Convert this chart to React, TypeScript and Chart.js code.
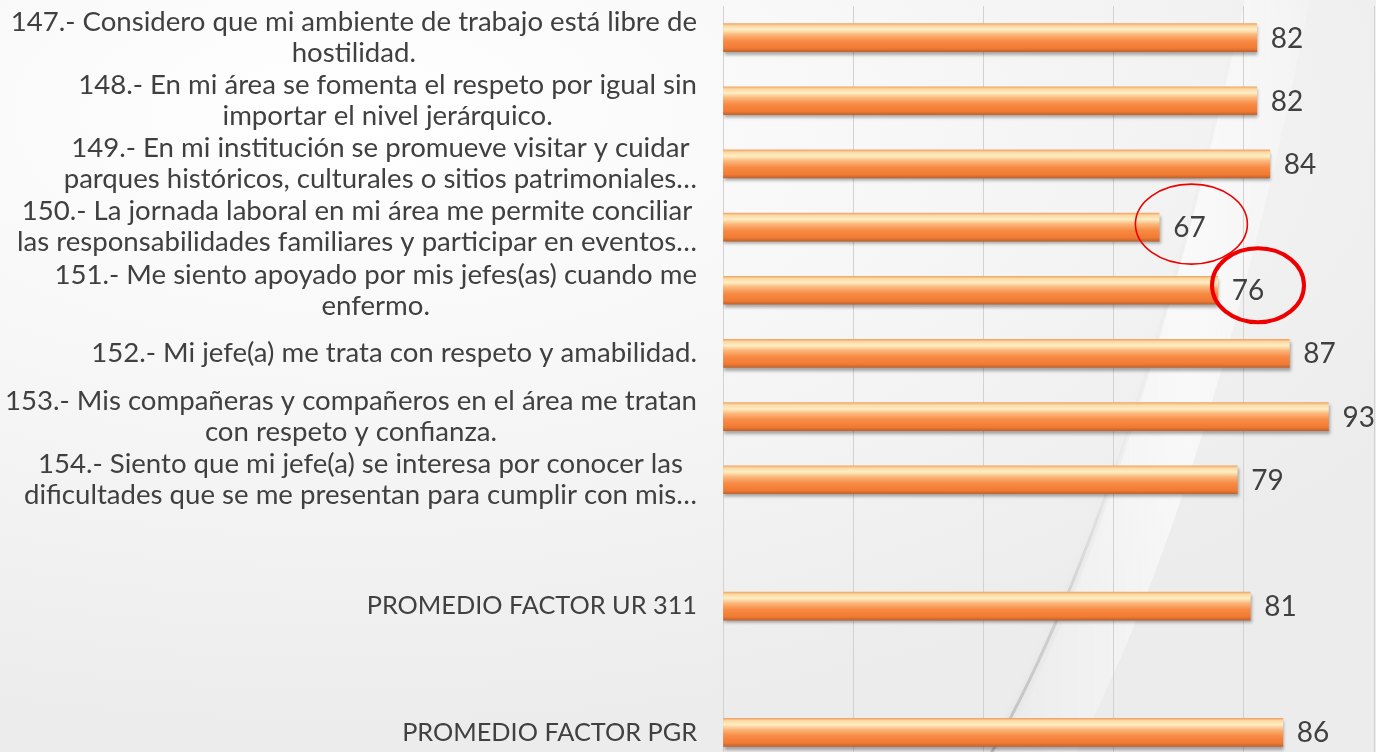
import React, { useEffect, useRef } from "react";
import { Chart, registerables } from "chart.js";

Chart.register(...registerables);

const categoryLines: string[][] = [
  ["147.- Considero que mi ambiente de trabajo está libre de", "hostilidad."],
  ["148.- En mi área se fomenta el respeto por igual sin", "importar el nivel jerárquico."],
  ["149.- En mi institución se promueve visitar y cuidar", "parques históricos, culturales o sitios patrimoniales…"],
  ["150.- La jornada laboral en mi área me permite conciliar", "las responsabilidades familiares y participar en eventos…"],
  ["151.- Me siento apoyado por mis jefes(as) cuando me", "enfermo."],
  ["152.- Mi jefe(a) me trata con respeto y amabilidad."],
  ["153.- Mis compañeras y compañeros en el área me tratan", "con respeto y confianza."],
  ["154.- Siento que mi jefe(a) se interesa por conocer las", "dificultades que se me presentan para cumplir con mis…"],
  [""],
  ["PROMEDIO FACTOR UR 311"],
  [""],
  ["PROMEDIO FACTOR PGR"],
];

const scores: (number | null)[] = [82, 82, 84, 67, 76, 87, 93, 79, null, 81, null, 86];

const xTicks = { min: 0, max: 100, step: 20 };

const circledIndexes = [3, 4];

const TEXT_COLOR = "#404040";
const FONT = "Lato, 'Noto Sans', sans-serif";

const backgroundPlugin = {
  id: "bgSwoosh",
  beforeDraw(chart: any) {
    const { ctx, height } = chart;
    ctx.save();
    const g = ctx.createLinearGradient(1000, 0, 1376, 0);
    g.addColorStop(0, "rgba(255,255,255,0)");
    g.addColorStop(0.5, "rgba(255,255,255,0.6)");
    g.addColorStop(1, "rgba(255,255,255,0)");
    ctx.beginPath();
    ctx.moveTo(995, height);
    ctx.quadraticCurveTo(1130, 520, 1245, 0);
    ctx.lineTo(1310, 0);
    ctx.quadraticCurveTo(1210, 500, 1070, height);
    ctx.closePath();
    ctx.fillStyle = g;
    ctx.fill();
    const sg = ctx.createLinearGradient(0, 0, 0, height);
    sg.addColorStop(0, "rgba(160,160,160,0)");
    sg.addColorStop(0.6, "rgba(160,160,160,0.05)");
    sg.addColorStop(0.8, "rgba(150,150,150,0.3)");
    sg.addColorStop(1, "rgba(140,140,140,0.45)");
    ctx.beginPath();
    ctx.moveTo(985, height);
    ctx.quadraticCurveTo(1128, 520, 1243, 0);
    ctx.strokeStyle = sg;
    ctx.lineWidth = 3;
    ctx.shadowColor = "rgba(140,140,140,0.3)";
    ctx.shadowBlur = 6;
    ctx.stroke();
    ctx.restore();
  },
};

const shadowPlugin = {
  id: "barShadow",
  beforeDatasetsDraw(chart: any) {
    const ctx = chart.ctx;
    ctx.save();
    ctx.shadowColor = "rgba(0,0,0,0.32)";
    ctx.shadowOffsetY = 3;
    ctx.shadowOffsetX = 1;
    ctx.shadowBlur = 3;
  },
  afterDatasetsDraw(chart: any) {
    chart.ctx.restore();
  },
};

const labelsPlugin = {
  id: "sideLabels",
  afterDraw(chart: any) {
    const { ctx, chartArea } = chart;
    const yScale = chart.scales.y;
    const lineH = 31;
    const rightEdge = chartArea.left - 26;
    ctx.save();
    ctx.fillStyle = TEXT_COLOR;
    ctx.textAlign = "center";
    ctx.textBaseline = "middle";
    const labels = chart.data.labels as string[][];
    labels.forEach((lines, i) => {
      if (!lines || !lines.join("")) return;
      const caps = lines.every((l) => l === l.toUpperCase());
      ctx.font = `${caps ? 25.3 : 27.6}px ${FONT}`;
      const w = Math.max(...lines.map((l) => ctx.measureText(l).width));
      const cx = rightEdge - w / 2;
      const yc = yScale.getPixelForValue(i);
      const start = yc - ((lines.length - 1) * lineH) / 2;
      lines.forEach((l, k) => ctx.fillText(l, cx, start + k * lineH));
    });

    ctx.font = `28px ${FONT}`;
    ctx.textAlign = "left";
    const meta = chart.getDatasetMeta(0);
    const vals = chart.data.datasets[0].data;
    const pos: Record<number, { x: number; y: number; w: number }> = {};
    meta.data.forEach((bar: any, i: number) => {
      const v = vals[i];
      if (v === null || v === undefined) return;
      const t = String(v);
      const x = bar.x + 14;
      ctx.fillText(t, x, bar.y + 1);
      pos[i] = { x, y: bar.y, w: ctx.measureText(t).width };
    });

    const styles = [
      { dx: 2, dy: -3, rx: 56, ry: 40, lw: 1.6 },
      { dx: 10, dy: -5, rx: 46, ry: 37, lw: 4 },
    ];
    ctx.strokeStyle = "#ee0000";
    circledIndexes.forEach((idx, k) => {
      const p = pos[idx];
      if (!p) return;
      const s = styles[k];
      ctx.beginPath();
      ctx.lineWidth = s.lw;
      ctx.ellipse(p.x + p.w / 2 + s.dx, p.y + s.dy, s.rx, s.ry, 0, 0, Math.PI * 2);
      ctx.stroke();
    });
    ctx.restore();
  },
};

function barGradient(context: any) {
  const chart = context.chart;
  const yScale = chart.scales && chart.scales.y;
  if (!yScale || context.dataIndex === undefined) return "#f5893f";
  const yc = yScale.getPixelForValue(context.dataIndex);
  if (!Number.isFinite(yc)) return "#f5893f";
  const half = 14;
  const g = chart.ctx.createLinearGradient(0, yc - half, 0, yc + half);
  g.addColorStop(0, "#f1a565");
  g.addColorStop(0.08, "#fcd8a4");
  g.addColorStop(0.22, "#feeec4");
  g.addColorStop(0.4, "#fbb67a");
  g.addColorStop(0.62, "#f78b45");
  g.addColorStop(0.88, "#f27a32");
  g.addColorStop(1, "#c0642f");
  return g;
}

export default function App() {
  const canvasRef = useRef<HTMLCanvasElement | null>(null);

  useEffect(() => {
    if (!canvasRef.current) return;
    const chart = new Chart(canvasRef.current, {
      type: "bar",
      data: {
        labels: categoryLines as any,
        datasets: [
          {
            data: scores,
            backgroundColor: barGradient,
            borderWidth: 0,
            barThickness: 28,
            skipNull: true,
          } as any,
        ],
      },
      options: {
        indexAxis: "y",
        animation: false,
        responsive: true,
        maintainAspectRatio: false,
        layout: { padding: { top: 6, right: 2, left: 0, bottom: 0 } },
        plugins: {
          legend: { display: false },
          tooltip: { enabled: false },
        },
        scales: {
          x: {
            min: xTicks.min,
            max: xTicks.max,
            ticks: { display: false, stepSize: xTicks.step },
            grid: { color: "#d2d2d2", lineWidth: 1, drawTicks: false },
            border: { display: false },
            afterFit: (s: any) => {
              s.height = 0;
            },
          },
          y: {
            ticks: { display: false },
            grid: { display: false, drawTicks: false },
            border: { display: false },
            afterFit: (s: any) => {
              s.width = 723;
            },
          },
        },
      },
      plugins: [backgroundPlugin, shadowPlugin, labelsPlugin],
    });
    (document as any).fonts?.ready?.then(() => chart.update());
    return () => chart.destroy();
  }, []);

  return (
    <div
      style={{
        position: "fixed",
        left: 0,
        top: 0,
        width: 1376,
        height: 764,
        background:
          "radial-gradient(ellipse 90% 80% at 25% 15%, #ffffff 0%, #f7f7f7 45%, #ececec 100%)",
      }}
    >
      <canvas ref={canvasRef} />
    </div>
  );
}
